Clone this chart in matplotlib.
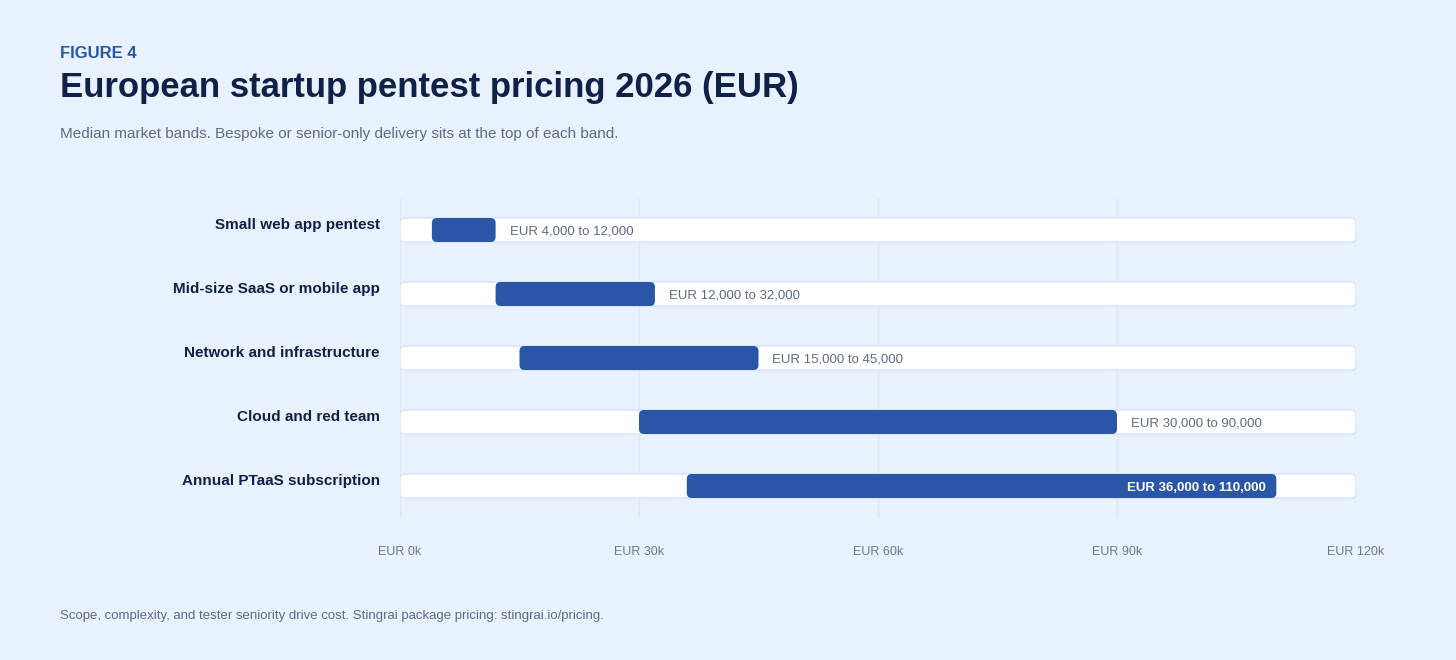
import matplotlib
matplotlib.use("Agg")
import matplotlib.pyplot as plt
from matplotlib.patches import FancyBboxPatch

categories = ["Small web app pentest", "Mid-size SaaS or mobile app", "Network and infrastructure",
              "Cloud and red team", "Annual PTaaS subscription"]
low = [4000, 12000, 15000, 30000, 36000]
high = [12000, 32000, 45000, 90000, 110000]
ticks = [0, 30000, 60000, 90000, 120000]
tick_labels = ["EUR 0k", "EUR 30k", "EUR 60k", "EUR 90k", "EUR 120k"]

W, H = 1456, 660
BG = "#e9f1fd"
BLUE = "#2a56a8"
NAVY = "#0f2147"
GREY = "#5d6b85"
fig = plt.figure(figsize=(W/100, H/100), dpi=100, facecolor=BG)
font = "Liberation Sans"
plt.rcParams['font.family'] = [font, 'DejaVu Sans']

ax = fig.add_axes([400/W, 1-518/H, 956/W, 320/H])
ax.set_facecolor(BG)
ax.set_xlim(0, 120000)
ax.set_ylim(4.5, -0.5)
for s in ax.spines.values():
    s.set_visible(False)
ax.set_yticks([])
ax.set_xticks(ticks)
ax.set_xticklabels(tick_labels, color="#6b7893", fontsize=9)
ax.tick_params(axis="x", length=0, pad=20)
for t in ticks:
    ax.axvline(t, color="#dce6f6", lw=1, zorder=0)

xpp = 120000/956
ypp = 1/64
hh = 24/64
asp = ypp/xpp
for i, c in enumerate(categories):
    tr = FancyBboxPatch((0, i-hh/2), 120000, hh, boxstyle=f"round,pad=0,rounding_size={5*xpp}",
                        mutation_aspect=asp, fc="white", ec="#d6e2f7", lw=1, zorder=2)
    ax.add_patch(tr)
    b = FancyBboxPatch((low[i], i-hh/2), high[i]-low[i], hh, boxstyle=f"round,pad=0,rounding_size={5*xpp}",
                       mutation_aspect=asp, fc=BLUE, ec="none", zorder=3)
    ax.add_patch(b)
    lab = f"EUR {low[i]:,} to {high[i]:,}"
    if i == len(categories)-1:
        ax.text(high[i]-10*xpp, i+0.03, lab, ha="right", va="center", color="white",
                fontsize=9.5, fontweight="bold", zorder=4)
    else:
        ax.text(high[i]+14*xpp, i+0.03, lab, ha="left", va="center", color=GREY, fontsize=9.5, zorder=4)
    fig.text(380/W, 1-225/H, "", )
    fig.text(380/W, 1-(225+64*i)/H, c, ha="right", va="center", color=NAVY, fontsize=11, fontweight="bold")

fig.text(60/W, 1-54/H, "FIGURE 4", color=BLUE, fontsize=12, fontweight="bold", va="center")
fig.text(60/W, 1-88/H, "European startup pentest pricing 2026 (EUR)", color=NAVY, fontsize=25,
         fontweight="bold", va="center")
fig.text(60/W, 1-134/H, "Median market bands. Bespoke or senior-only delivery sits at the top of each band.",
         color=GREY, fontsize=11, va="center")
fig.text(60/W, 1-616/H, "Scope, complexity, and tester seniority drive cost. Stingrai package pricing: stingrai.io/pricing.",
         color=GREY, fontsize=9.5, va="center")
fig.savefig("out.png", dpi=100, facecolor=BG)
